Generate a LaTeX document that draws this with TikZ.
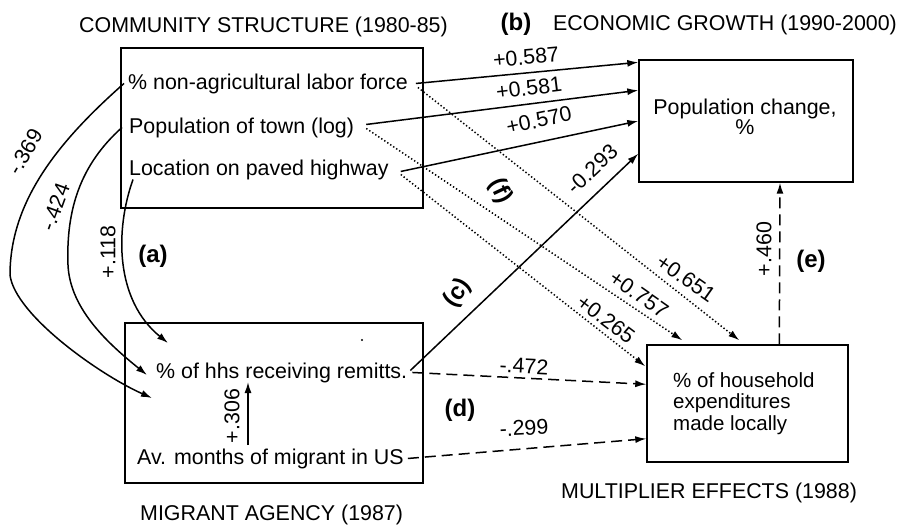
\documentclass[tikz,border=0pt]{standalone}
\usepackage{fontspec}
\setmainfont{Liberation Sans}
\usetikzlibrary{arrows.meta}
\newcommand\myfs{\fontsize{21.4}{25}\selectfont}
\newcommand\mybf{\fontsize{24}{28}\selectfont\bfseries}
\begin{document}
\begin{tikzpicture}[x=1pt,y=-1pt,
  box/.style={draw, line width=1.4pt, inner sep=0},
  txt/.style={inner sep=0, anchor=base west, font=\myfs},
  lab/.style={inner sep=0, font=\myfs},
  bold/.style={inner sep=0, font=\mybf},
  arr/.style={-{Latex[length=11pt,width=7pt]}, line width=1.5pt},
  dsh/.style={arr, dash pattern=on 11pt off 6pt},
  dot/.style={-{Latex[length=11pt,width=7pt]}, line width=1.5pt, dash pattern=on 1.4pt off 2.2pt}]
\useasboundingbox (0,0) rectangle (904,525);
% boxes
\node[box, minimum width=302pt, minimum height=160pt] (A) at (272,128) {};
\node[box, minimum width=214pt, minimum height=122pt] (B) at (746,121) {};
\node[box, minimum width=298pt, minimum height=160pt] (C) at (274,403) {};
\node[box, minimum width=201pt, minimum height=117pt] (D) at (747.5,403.5) {};
% titles
\node[txt] (tA) at (79,32) {COMMUNITY STRUCTURE (1980-85)};
\node[bold] (tb) at (516,24) {(b)};
\node[txt] (tB) at (553,30) {ECONOMIC GROWTH (1990-2000)};
\node[txt] (tC) at (140,520) {MIGRANT AGENCY (1987)};
\node[txt] (tD) at (561,498) {MULTIPLIER EFFECTS (1988)};
% texts
\node[txt] (nonag) at (128,89) {\% non-agricultural labor force};
\node[txt] (popt) at (129,133) {Population of town (log)};
\node[txt] (hwy) at (129,175) {Location on paved highway};
\node[txt] (rem) at (156,378) {\% of hhs receiving remitts.};
\node[txt] (avm) at (137,464) {Av. months of migrant in US};
\node[inner sep=0, anchor=north, align=center, font=\fontsize{21.4}{20}\selectfont] (pc) at (745,99) {Population change,\\\%};
\node[inner sep=0, anchor=north west, align=left, font=\fontsize{20.5}{21.5}\selectfont] (he) at (673,372) {\% of household\\expenditures\\made locally};
% solid arrows to B
\draw[arr] ([xshift=8pt]nonag.east) -- ([yshift=-3pt]B.north west);
\draw[arr] ([xshift=12pt,yshift=3pt]popt.east) -- ([yshift=-31pt]B.north west);
\draw[arr] ([xshift=12pt,yshift=-2pt]hwy.east) -- (B.west);
\draw[arr] ([xshift=3pt,yshift=2pt]rem.east) -- ([yshift=29pt]B.south west);
% dotted arrows to D
\draw[dot] ([xshift=10pt,yshift=-4pt]nonag.east) -- ([xshift=93pt,yshift=4pt]D.north west);
\draw[dot] ([xshift=12pt,yshift=-1pt]popt.east) -- ([xshift=36pt,yshift=4pt]D.north west);
\draw[dot] ([xshift=12pt,yshift=-5pt]hwy.east) -- ([xshift=-1pt,yshift=-22pt]D.north west);
% dashed arrows
\draw[dsh] ([xshift=5pt]rem.east) -- ([yshift=-40pt]D.north west);
\draw[dsh] ([xshift=4pt]avm.east) -- ([yshift=24pt]D.south west);
\draw[dsh] ([xshift=133pt]D.north west) -- ([xshift=34pt]B.south);
% +.306
\draw[arr] ([shift={(111pt,19pt)}]avm.base west) -- ([shift={(92pt,-4pt)}]rem.base west);
% curves
\draw[arr] ([xshift=-4pt]nonag.west) .. controls (60,140) and (10,200) .. (10,275)
  .. controls (15,315) and (100,375) .. ([shift={(-4pt,-20pt)}]rem.base west);
\draw[arr] ([xshift=-7pt]popt.west) .. controls (80,165) and (66,210) .. (68,265)
  .. controls (70,310) and (110,345) .. ([shift={(-9pt,3pt)}]rem.base west);
\draw[arr] ([shift={(4pt,-10pt)}]hwy.west) .. controls (115,230) and (115,300) .. ([shift={(12pt,35pt)}]rem.base west);
% labels
\node[lab, rotate=5] at (526,57) {+0.587};
\node[lab, rotate=7] at (529,88) {+0.581};
\node[lab, rotate=12] at (539,120) {+0.570};
\node[lab, rotate=43] at (592,169) {-0.293};
\node[bold, rotate=-65] at (500,191) {(f)};
\node[bold, rotate=55] at (458,293) {(c)};
\node[lab, rotate=-35] at (686,278) {+0.651};
\node[lab, rotate=-35] at (639,294) {+0.757};
\node[lab, rotate=-37] at (606,319) {+0.265};
\node[lab, rotate=-3] at (524,366) {-.472};
\node[lab, rotate=3] at (524,428) {-.299};
\node[lab, rotate=90] at (764,249) {+.460};
\node[bold] at (811,261) {(e)};
\node[bold] at (460,410) {(d)};
\node[bold] at (153,256) {(a)};
\node[lab, rotate=90] at (232,416) {+.306};
\node[lab, rotate=90] at (108,252) {+.118};
\node[lab, rotate=60] at (25,152) {-.369};
\node[lab, rotate=70] at (55,207) {-.424};
\fill (362,340) circle (1.2);
\end{tikzpicture}
\end{document}
